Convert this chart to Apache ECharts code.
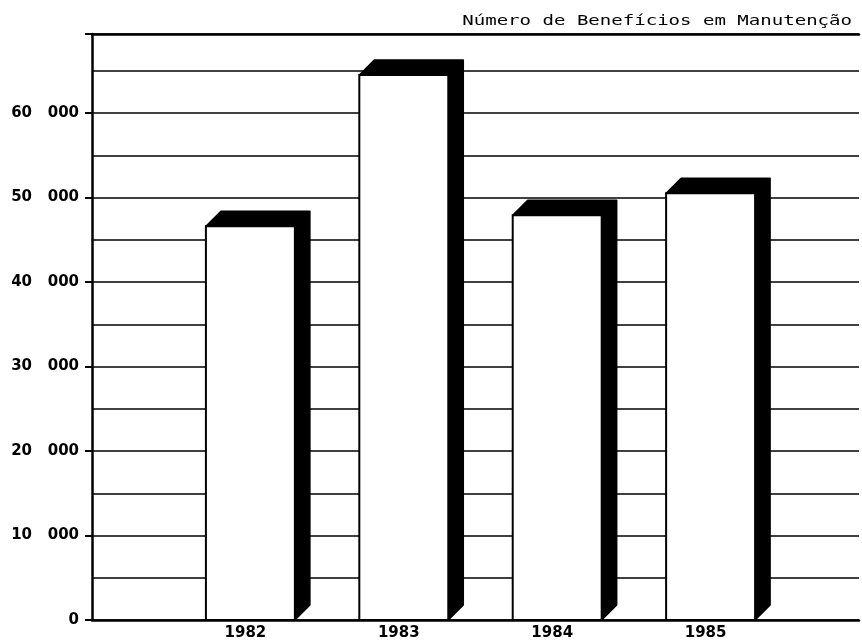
<!DOCTYPE html>
<html>
<head>
<meta charset="utf-8">
<script src="https://cdn.jsdelivr.net/npm/echarts@6/dist/echarts.min.js"></script>
<style>
  html, body { margin: 0; padding: 0; background: #ffffff; }
  #chart { width: 862px; height: 644px; }
</style>
</head>
<body>
<div id="chart"></div>
<script>
// Benefits in maintenance, by year
const years = [1982, 1983, 1984, 1985];
const benefits = [46600, 64500, 47900, 50500];
const yTickValues = [0, 10000, 20000, 30000, 40000, 50000, 60000];
const titleText = 'Número de Benefícios em Manutenção';

const chart = echarts.init(document.getElementById('chart'), null, { renderer: 'canvas' });

const INK = '#000000';
const DEPTH_X = 15;
const DEPTH_Y = 15;
const FRONT_SHIFT = 5;

// Pseudo-3D block: white front face with a black top and right side.
function renderBlock(params, api) {
  const year = api.value(0);
  const val = api.value(1);
  const top = api.coord([year, val]);
  const base = api.coord([year, 0]);
  const w = api.size([0.58, 0])[0];
  const x0 = top[0] - w / 2 + FRONT_SHIFT;
  const x1 = x0 + w;
  const yt = top[1];
  const yb = base[1];
  return {
    type: 'group',
    children: [
      {
        type: 'polygon',
        shape: {
          points: [
            [x0, yt],
            [x0 + DEPTH_X, yt - DEPTH_Y],
            [x1 + DEPTH_X, yt - DEPTH_Y],
            [x1 + DEPTH_X, yb - DEPTH_Y],
            [x1, yb],
            [x1, yt]
          ]
        },
        style: { fill: INK, stroke: INK, lineWidth: 1.5, lineJoin: 'round' }
      },
      {
        type: 'rect',
        shape: { x: x0, y: yt, width: w, height: yb - yt },
        style: { fill: '#ffffff', stroke: INK, lineWidth: 2 }
      }
    ]
  };
}

const labelFont = {
  color: INK,
  fontFamily: 'DejaVu Sans',
  fontWeight: 'bold',
  fontSize: 15
};

const option = {
  backgroundColor: '#ffffff',
  animation: false,
  graphic: [
    {
      type: 'text',
      x: 852,
      y: 28,
      scaleX: 1.36,
      style: {
        text: titleText,
        fill: INK,
        font: '14px "DejaVu Sans Mono"',
        align: 'right',
        verticalAlign: 'bottom'
      }
    }
  ],
  grid: { left: 92, right: 0, top: 34, bottom: 24, containLabel: false },
  xAxis: [
    {
      type: 'value',
      min: 1981,
      max: 1986,
      interval: 1,
      position: 'bottom',
      axisLine: { show: true, onZero: false, lineStyle: { color: INK, width: 2.5 } },
      axisTick: { show: false },
      splitLine: { show: false },
      axisLabel: Object.assign({
        margin: 6,
        formatter: v => (years.indexOf(v) >= 0 ? String(v) : '')
      }, labelFont)
    },
    {
      type: 'value',
      min: 1981,
      max: 1986,
      position: 'top',
      axisLine: { show: true, onZero: false, lineStyle: { color: INK, width: 2.5 } },
      axisTick: { show: false },
      axisLabel: { show: false },
      splitLine: { show: false }
    }
  ],
  yAxis: [
    {
      // grid lines every 5 000
      type: 'value',
      min: 0,
      max: 69350,
      interval: 5000,
      position: 'left',
      axisLine: { show: false },
      axisTick: { show: false },
      axisLabel: { show: false },
      splitLine: { show: true, lineStyle: { color: INK, width: 1.5 } }
    },
    {
      // labelled ticks every 10 000
      type: 'value',
      min: 0,
      max: 69350,
      interval: 10000,
      position: 'left',
      offset: 0,
      axisLine: { show: true, onZero: false, lineStyle: { color: INK, width: 2.5 } },
      axisTick: { show: true, length: 7, lineStyle: { color: INK, width: 2 } },
      splitLine: { show: false },
      axisLabel: Object.assign({
        margin: 13,
        formatter: v => {
          if (yTickValues.indexOf(v) < 0) return '';
          if (v === 0) return '0';
          return String(v / 1000) + '   000';
        }
      }, labelFont)
    }
  ],
  series: [
    {
      type: 'custom',
      xAxisIndex: 0,
      yAxisIndex: 0,
      renderItem: renderBlock,
      data: years.map((y, i) => [y, benefits[i]]),
      z: 5
    }
  ]
};

chart.setOption(option);
</script>
</body>
</html>
